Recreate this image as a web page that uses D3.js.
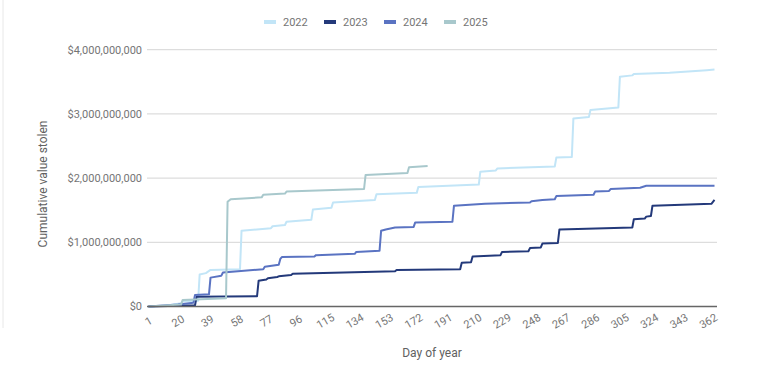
<!DOCTYPE html>
<html><head><meta charset="utf-8">
<script src="https://cdn.jsdelivr.net/npm/d3@7"></script>
<style>
body{margin:0;background:#fff;}
text{font-family:Roboto,"Noto Sans",sans-serif;}
</style>
</head><body>
<svg id="c" width="759" height="368"></svg>
<script>
// ---- data (cumulative value stolen, in billions USD, by day of year) ----
const years = ["2022", "2023", "2024", "2025"];
const colors = ["#c2e5f7", "#23397a", "#5a73c2", "#a8c8cc"];

const s2022 = [[1,0],[12,0.01],[22,0.05],[23,0.08],[33,0.09],[34,0.50],[38,0.52],[41,0.57],[60,0.58],[61,1.18],[80,1.22],[81,1.25],[89,1.27],[90,1.32],[106,1.35],[107,1.51],[119,1.54],[120,1.62],[147,1.66],[148,1.75],[174,1.77],[175,1.86],[214,1.90],[215,2.10],[225,2.12],[226,2.15],[263,2.18],[264,2.32],[274,2.33],[275,2.93],[285,2.95],[286,3.06],[304,3.10],[305,3.58],[313,3.60],[314,3.62],[337,3.64],[361,3.68],[366,3.69]];
const s2023 = [[1,0],[20,0.01],[31,0.02],[32,0.15],[71,0.16],[72,0.40],[77,0.42],[78,0.44],[84,0.46],[85,0.47],[93,0.49],[94,0.51],[160,0.55],[161,0.57],[202,0.58],[203,0.68],[209,0.69],[210,0.78],[228,0.80],[229,0.85],[246,0.86],[247,0.91],[254,0.92],[255,0.98],[265,0.99],[266,1.20],[313,1.23],[314,1.36],[321,1.37],[322,1.40],[325,1.41],[326,1.57],[364,1.60],[366,1.66]];
const s2024 = [[1,0],[20,0.03],[30,0.06],[31,0.18],[40,0.19],[41,0.45],[48,0.48],[49,0.53],[75,0.58],[76,0.62],[85,0.65],[86,0.74],[87,0.77],[108,0.78],[109,0.80],[134,0.82],[135,0.85],[150,0.87],[151,1.18],[154,1.20],[160,1.23],[172,1.24],[173,1.31],[197,1.32],[198,1.57],[218,1.60],[247,1.62],[248,1.64],[255,1.66],[263,1.67],[264,1.72],[288,1.74],[289,1.79],[298,1.80],[299,1.83],[318,1.85],[322,1.88],[366,1.88]];
const s2025 = [[1,0],[22,0.03],[23,0.10],[51,0.13],[52,1.63],[54,1.67],[74,1.70],[75,1.74],[89,1.76],[90,1.79],[140,1.83],[141,2.05],[168,2.08],[169,2.17],[181,2.19]];
const seriesData = [s2022, s2023, s2024, s2025];

const xTicks = [1,20,39,58,77,96,115,134,153,172,191,210,229,248,267,286,305,324,343,362];
const yTicks = [0,1,2,3,4];
const xTitle = "Day of year";
const yTitle = "Cumulative value stolen";

// ---- chart ----
const svg = d3.select("#c");
const x = d3.scaleLinear().domain([1, 366]).range([148.5, 714.5]);
const y = d3.scaleLinear().domain([0, 4]).range([306.5, 49.7]);
const gridX0 = 147, gridX1 = 717;
const fmt = v => "$" + d3.format(",")(Math.round(v * 1e9));

// left border
svg.append("line").attr("x1",3).attr("x2",3).attr("y1",0).attr("y2",328)
  .attr("stroke","#e8e8e8").attr("stroke-width",1);

// gridlines
svg.append("g").selectAll("line").data(yTicks.filter(t => t > 0)).join("line")
  .attr("x1", gridX0).attr("x2", gridX1)
  .attr("y1", d => y(d)).attr("y2", d => y(d))
  .attr("stroke", "#dddddd").attr("stroke-width", 1.3);

// y labels
svg.append("g").selectAll("text").data(yTicks).join("text")
  .attr("x", 142).attr("y", d => y(d)).attr("dy", "0.35em")
  .attr("text-anchor", "end").attr("font-size", 11).attr("fill", "#757575")
  .text(fmt);

// lines
const line = d3.line().x(d => x(d[0])).y(d => y(d[1]));
svg.append("g").selectAll("path").data(seriesData).join("path")
  .attr("d", line).attr("fill", "none")
  .attr("stroke", (d, i) => colors[i]).attr("stroke-width", 2)
  .attr("stroke-linejoin", "round");

// baseline
svg.append("line").attr("x1", gridX0).attr("x2", gridX1)
  .attr("y1", y(0)).attr("y2", y(0)).attr("stroke", "#666").attr("stroke-width", 1.3);

// x labels
svg.append("g").selectAll("text").data(xTicks).join("text")
  .attr("transform", d => `translate(${x(d)},321) rotate(-30)`)
  .attr("text-anchor", "middle").attr("dy", "0.35em")
  .attr("font-size", 11).attr("fill", "#757575")
  .text(d => d);

// axis titles
svg.append("text").attr("x", 432).attr("y", 353).attr("dy", "0.35em")
  .attr("text-anchor", "middle").attr("font-size", 12).attr("fill", "#616161").text(xTitle);
svg.append("text").attr("transform", "translate(43,184) rotate(-90)").attr("dy", "0.35em")
  .attr("text-anchor", "middle").attr("font-size", 12).attr("fill", "#616161").text(yTitle);

// legend
const legX = [264, 324, 384, 444];
const leg = svg.append("g").selectAll("g").data(years).join("g")
  .attr("transform", (d, i) => `translate(${legX[i]},22)`);
leg.append("line").attr("x1", 0).attr("x2", 12).attr("y1", 0).attr("y2", 0)
  .attr("stroke", (d, i) => colors[i]).attr("stroke-width", 4);
leg.append("text").attr("x", 19).attr("dy", "0.35em")
  .attr("font-size", 11).attr("fill", "#757575").text(d => d);
</script>
</body></html>
